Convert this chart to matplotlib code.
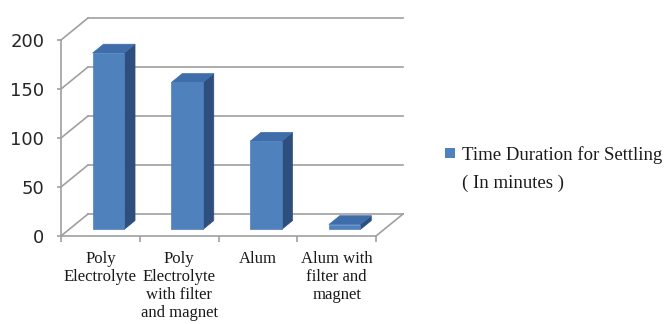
import matplotlib.pyplot as plt
from matplotlib.patches import Polygon, Rectangle

categories = ["Poly\nElectrolyte", "Poly\nElectrolyte\nwith filter\nand magnet",
              "Alum", "Alum with\nfilter and\nmagnet"]
settling_minutes = [180, 150, 90, 5]
y_ticks = [0, 50, 100, 150, 200]
legend_label = ["Time Duration for Settling", "( In minutes )"]

FRONT = '#4F81BD'
TOP = '#3F6DAA'
SIDE = '#2E4F7E'
GRID = '#A0A0A0'
SERIF = 'Liberation Serif'

fig = plt.figure(figsize=(6.64, 3.24), dpi=100)
ax = fig.add_axes([61 / 664, 1 - 236 / 324, 315 / 664, 196 / 324])
ax.set_xlim(0, len(categories))
ax.set_ylim(0, 200)

# depth of the fake 3d box, in data units
px_x = 315 / len(categories)
px_y = 196 / 200
DX = 27 / px_x
DY = 22 / px_y
n = len(categories)

# back wall gridlines + side wall
for v in y_ticks:
    ax.plot([DX, n + DX], [v + DY, v + DY], color=GRID, lw=1.2, clip_on=False, zorder=1)
    ax.plot([0, DX], [v, v + DY], color=GRID, lw=1.2, clip_on=False, zorder=1)
# floor right edge
ax.plot([n, n + DX], [0, DY], color=GRID, lw=1.2, clip_on=False, zorder=1)

# bars: front face sits 30% into the depth, back face at 70%
f0, f1 = 0.3, 0.7
w = 0.4
for i, v in enumerate(settling_minutes):
    x0 = i + 0.5 - w / 2
    x1 = i + 0.5 + w / 2
    side = [(x1 + f0 * DX, f0 * DY), (x1 + f1 * DX, f1 * DY),
            (x1 + f1 * DX, v + f1 * DY), (x1 + f0 * DX, v + f0 * DY)]
    top = [(x0 + f0 * DX, v + f0 * DY), (x1 + f0 * DX, v + f0 * DY),
           (x1 + f1 * DX, v + f1 * DY), (x0 + f1 * DX, v + f1 * DY)]
    front = [(x0 + f0 * DX, f0 * DY), (x1 + f0 * DX, f0 * DY),
             (x1 + f0 * DX, v + f0 * DY), (x0 + f0 * DX, v + f0 * DY)]
    ax.add_patch(Polygon(side, closed=True, facecolor=SIDE, edgecolor=SIDE, lw=0.5, zorder=3))
    ax.add_patch(Polygon(top, closed=True, facecolor=TOP, edgecolor=TOP, lw=0.5, zorder=3))
    ax.add_patch(Polygon(front, closed=True, facecolor=FRONT, edgecolor=FRONT, lw=0.5, zorder=3))

# axes
for s in ['top', 'right']:
    ax.spines[s].set_visible(False)
for s in ['left', 'bottom']:
    ax.spines[s].set_color(GRID)
    ax.spines[s].set_linewidth(1.2)
    ax.spines[s].set_zorder(4)

ax.set_yticks(y_ticks)
ax.tick_params(axis='y', length=3, width=1.2, color=GRID, pad=9,
               labelsize=13, labelcolor='#262626')
ax.set_xticks(range(n + 1))
ax.set_xticklabels([])
ax.set_xticks([i + 0.5 for i in range(n)], minor=True)
ax.set_xticklabels(categories, minor=True, fontfamily=SERIF, fontsize=12,
                   color='#1a1a1a', linespacing=1.15)
ax.tick_params(axis='x', which='major', length=4, width=1.2, color=GRID)
ax.tick_params(axis='x', which='minor', length=0, pad=11)
ax.patch.set_alpha(0)

# legend
fig.patches.append(Rectangle((445 / 664, 1 - 158 / 324), 10 / 664, 10 / 324,
                             transform=fig.transFigure, facecolor=FRONT, edgecolor='none'))
fig.text(462 / 664, 1 - 160 / 324, legend_label[0], family=SERIF, fontsize=13.5,
         va='baseline', ha='left', color='#1a1a1a')
fig.text(462 / 664, 1 - 188 / 324, legend_label[1], family=SERIF, fontsize=13.5,
         va='baseline', ha='left', color='#1a1a1a')

fig.savefig('out.png', dpi=100)
